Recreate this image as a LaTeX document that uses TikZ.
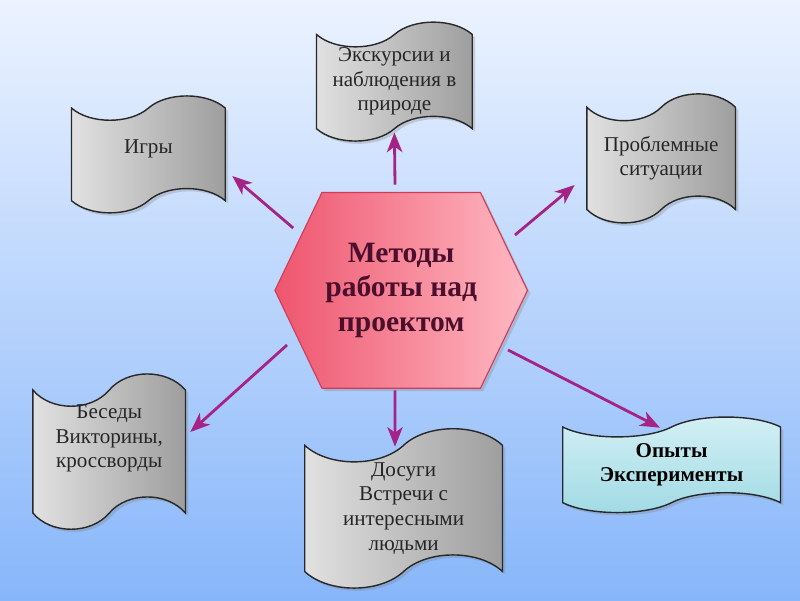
\documentclass[tikz,border=0pt]{standalone}
\usepackage{fontspec}
\setmainfont{Liberation Serif}
\definecolor{bgTop}{RGB}{236,243,255}
\definecolor{bgBottom}{RGB}{135,182,250}
\definecolor{tapeLight}{RGB}{225,225,225}
\definecolor{tapeDark}{RGB}{158,158,158}
\definecolor{tapeLine}{RGB}{40,40,40}
\definecolor{dropLight}{RGB}{212,240,245}
\definecolor{dropCyan}{RGB}{160,218,228}
\definecolor{hexLeft}{RGB}{238,85,110}
\definecolor{hexRight}{RGB}{255,185,195}
\definecolor{hexLine}{RGB}{205,60,90}
\definecolor{hexText}{RGB}{75,15,45}
\definecolor{arrowMag}{RGB}{165,35,135}
\usepackage{tikz}
\usetikzlibrary{positioning, calc, arrows.meta, backgrounds, shadows}
\tikzset{
  tapebox/.style={rectangle, align=center, inner sep=0pt, text=black!85,
                  font=\fontsize{15}{17.5}\selectfont},
  tapeboxB/.style={tapebox, text=black, font=\fontsize{15}{17.5}\selectfont\bfseries},
  tapeG/.style={draw=tapeLine, line width=1pt, left color=tapeLight, right color=tapeDark,
                drop shadow={opacity=0.3, shadow xshift=2pt, shadow yshift=-2pt}},
  tapeC/.style={draw=tapeLine, line width=1pt, top color=dropLight, bottom color=dropCyan,
                drop shadow={opacity=0.3, shadow xshift=2pt, shadow yshift=-2pt}},
  hexbox/.style={rectangle, align=center, inner sep=0pt, text=hexText,
                 font=\fontsize{21}{24.5}\selectfont\bfseries},
  hexfill/.style={draw=hexLine, line width=0.8pt, left color=hexLeft, right color=hexRight,
                  drop shadow={opacity=0.3, shadow xshift=2pt, shadow yshift=-2pt}},
}
% punched tape outline round a node: [yshift]{node}{style}
\newcommand{\tapeshape}[3][0pt]{%
  \path[#3] let \p1=([yshift=#1]#2.north west), \p2=([yshift=#1]#2.south east),
      \n1={\x2-\x1}, \n2={\y1-\y2} in
    (\x1,{\y1-0.1*\n2})
    .. controls +(0.12*\n1,-0.14*\n2) and +(-0.12*\n1,-0.14*\n2) .. ++(0.5*\n1,0)
    .. controls +(0.12*\n1,0.14*\n2) and +(-0.12*\n1,0.14*\n2) .. ++(0.5*\n1,0)
    -- (\x2,{\y2+0.1*\n2})
    .. controls +(-0.12*\n1,0.14*\n2) and +(0.12*\n1,0.14*\n2) .. ++(-0.5*\n1,0)
    .. controls +(-0.12*\n1,-0.14*\n2) and +(0.12*\n1,-0.14*\n2) .. ++(-0.5*\n1,0)
    -- cycle;}

\begin{document}
\begin{tikzpicture}[
    arrow/.style={-{Stealth[length=14pt, width=11pt, inset=4pt]}, draw=arrowMag,
                  fill=arrowMag, line width=2pt},
  ]
    \useasboundingbox (0,0) rectangle (20,15);

    % centre
    \node[hexbox, minimum width=6.3cm, minimum height=4.88cm] (hex) at (10.03,7.74)
         {Методы\\работы над\\проектом};

    % methods
    \node[tapebox, minimum width=3.83cm, minimum height=2.88cm] (igry) at (3.71,11.29)
         {Игры};
    \node[tapebox, minimum width=3.88cm, minimum height=2.93cm] (ekskursii) at (9.86,12.96)
         {Экскурсии и\\наблюдения в\\природе};
    \node[tapebox, minimum width=3.7cm, minimum height=3.18cm] (problemy) at (16.53,11.04)
         {Проблемные\\ситуации};
    \node[tapebox, minimum width=3.8cm, minimum height=3.83cm] (besedy) at (2.73,4.04)
         {Беседы\\Викторины,\\кроссворды};
    \node[tapebox, minimum width=4.93cm, minimum height=3.93cm] (dosugi) at (10.09,2.29)
         {Досуги\\Встречи с\\интересными\\людьми};
    \node[tapeboxB, minimum width=5.43cm, minimum height=2.35cm] (opyty) at (16.79,3.38)
         {Опыты\\Эксперименты};

    \begin{scope}[on background layer]
      \shade[top color=bgTop, bottom color=bgBottom] (0,0) rectangle (20,15);
      \tapeshape[-0.15cm]{igry}{tapeG}
      \tapeshape{ekskursii}{tapeG}
      \tapeshape{problemy}{tapeG}
      \tapeshape[-0.33cm]{besedy}{tapeG}
      \tapeshape{dosugi}{tapeG}
      \tapeshape{opyty}{tapeC}
      \path[hexfill] (hex.west) -- ([xshift=1.175cm]hex.north west)
        -- ([xshift=-1.175cm]hex.north east) -- (hex.east)
        -- ([xshift=-1.175cm]hex.south east) -- ([xshift=1.175cm]hex.south west) -- cycle;
    \end{scope}

    % arrows
    \draw[arrow] ([shift={(-0.155,0.2)}]hex.north) -- ([yshift=0.2cm]ekskursii.south);
    \draw[arrow] ([shift={(-2.7,1.56)}]hex.center) -- ([shift={(0.175,-0.69)}]igry.east);
    \draw[arrow] ([shift={(2.845,1.385)}]hex.center) -- ([shift={(-0.305,-0.665)}]problemy.west);
    \draw[arrow] ([shift={(-2.855,-1.365)}]hex.center) -- ([shift={(0.12,0.16)}]besedy.east);
    \draw[arrow] ([shift={(-0.155,-0.05)}]hex.south) -- ([shift={(-0.215,-0.43)}]dosugi.north);
    \draw[arrow] ([shift={(2.67,-1.49)}]hex.center) -- ([shift={(-0.29,-0.255)}]opyty.north);
  \end{tikzpicture}
\end{document}
